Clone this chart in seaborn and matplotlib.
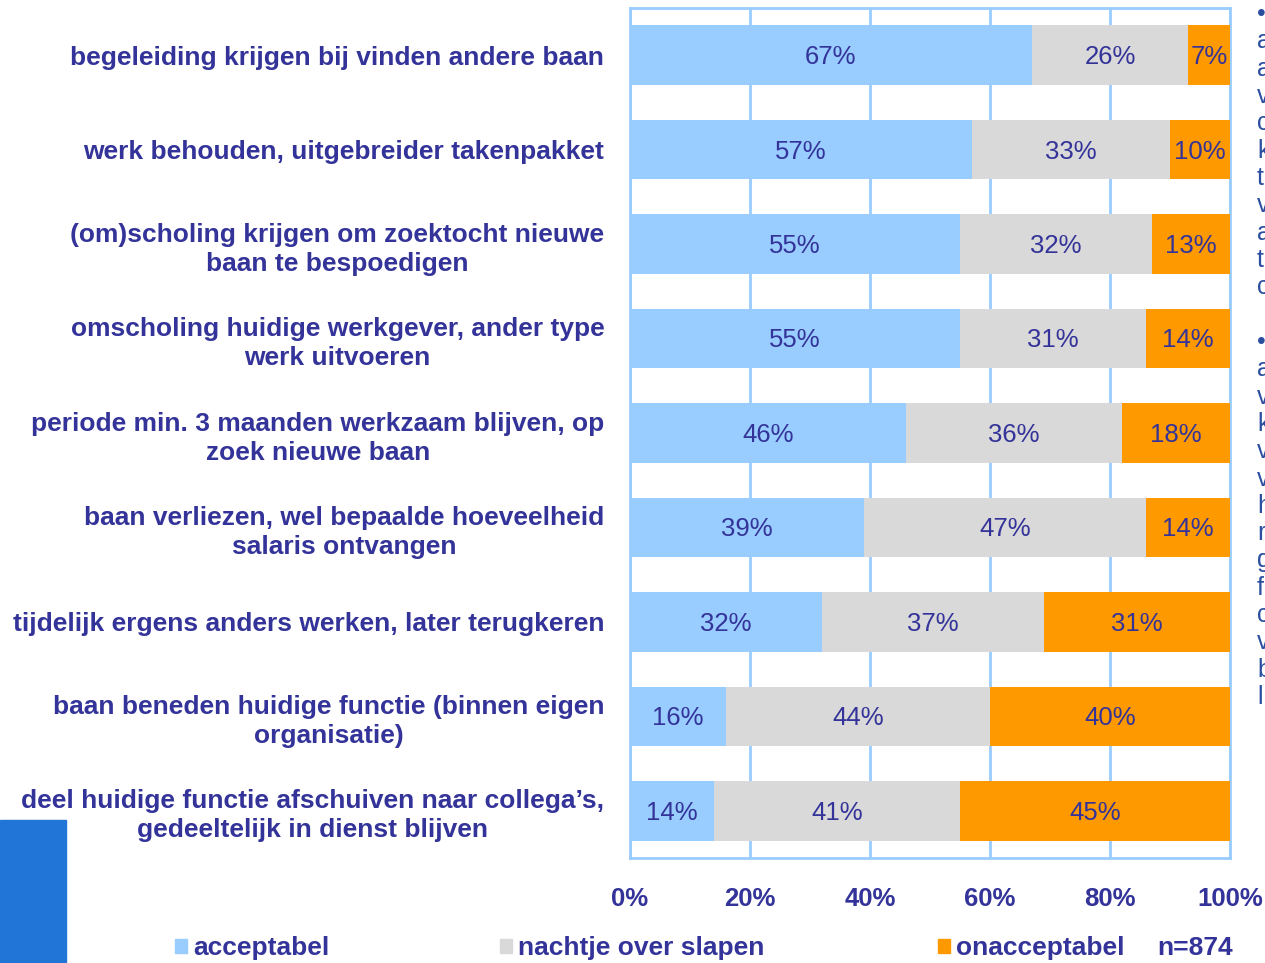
import matplotlib
matplotlib.use("Agg")
import matplotlib.pyplot as plt
import seaborn as sns
import pandas as pd
import numpy as np
from matplotlib.patches import Rectangle

categories = [
    "begeleiding krijgen bij vinden andere baan",
    "werk behouden, uitgebreider takenpakket",
    "(om)scholing krijgen om zoektocht nieuwe\nbaan te bespoedigen",
    "omscholing huidige werkgever, ander type\nwerk uitvoeren",
    "periode min. 3 maanden werkzaam blijven, op\nzoek nieuwe baan",
    "baan verliezen, wel bepaalde hoeveelheid\nsalaris ontvangen",
    "tijdelijk ergens anders werken, later terugkeren",
    "baan beneden huidige functie (binnen eigen\norganisatie)",
    "deel huidige functie afschuiven naar collega\u2019s,\ngedeeltelijk in dienst blijven",
]
acceptabel = [67, 57, 55, 55, 46, 39, 32, 16, 14]
nachtje = [26, 33, 32, 31, 36, 47, 37, 44, 41]
onacceptabel = [7, 10, 13, 14, 18, 14, 31, 40, 45]
series_names = ["acceptabel", "nachtje over slapen", "onacceptabel"]
xticks = [0, 20, 40, 60, 80, 100]
n_label = "n=874"

colors = ["#99CCFF", "#D9D9D9", "#FF9900"]
txt = "#333399"

sns.set_theme(style="white")
plt.rcParams["font.family"] = ["Liberation Sans", "DejaVu Sans"]

df = pd.DataFrame({"cat": categories, "a": acceptabel, "n": nachtje, "o": onacceptabel})
df["cum_n"] = df["a"] + df["n"]
df["cum_o"] = df["a"] + df["n"] + df["o"]

fig = plt.figure(figsize=(12.65, 9.63), dpi=100)
ax = fig.add_axes([630 / 1265, 1 - 858 / 963, 600 / 1265, 850 / 963])

W = 0.63
sns.barplot(data=df, y="cat", x="cum_o", color=colors[2], width=W, ax=ax, saturation=1, zorder=3, linewidth=0)
sns.barplot(data=df, y="cat", x="cum_n", color=colors[1], width=W, ax=ax, saturation=1, zorder=3, linewidth=0)
sns.barplot(data=df, y="cat", x="a", color=colors[0], width=W, ax=ax, saturation=1, zorder=3, linewidth=0)

for i in range(len(categories)):
    starts = [0, acceptabel[i], acceptabel[i] + nachtje[i]]
    vals = [acceptabel[i], nachtje[i], onacceptabel[i]]
    for s, v in zip(starts, vals):
        ax.text(s + v / 2, i + 0.02, f"{v}%", ha="center", va="center", fontsize=18.5, color=txt, zorder=4)

ax.set_xlim(0, 100)
ax.set_ylim(len(categories) - 0.5, -0.5)
ax.set_xticks(xticks)
ax.set_xticklabels([f"{t}%" for t in xticks], fontsize=18.5, fontweight="bold", color=txt)
ax.set_xlabel("")
ax.set_ylabel("")
ax.tick_params(axis="x", length=0, pad=21)
ax.tick_params(axis="y", length=0, pad=18.5)
for lab in ax.get_yticklabels():
    lab.set_fontsize(19)
    lab.set_fontweight("bold")
    lab.set_color(txt)
    lab.set_multialignment("center")
    lab.set_linespacing(1.27)
ax.grid(axis="x", color="#99CCFF", linewidth=2, zorder=0)
ax.grid(axis="y", visible=False)
ax.set_axisbelow(True)
for sp in ax.spines.values():
    sp.set_color("#99CCFF")
    sp.set_linewidth(2)

legend_x = [175, 500, 938]
for name, c, lx in zip(series_names, colors, legend_x):
    leg = fig.legend([Rectangle((0, 0), 1, 1, color=c)], [name], loc="center left",
                     bbox_to_anchor=(lx / 1265, 1 - 948 / 963), frameon=False,
                     handlelength=0.45, handleheight=0.45, handletextpad=0.25,
                     borderpad=0, borderaxespad=0, prop={"size": 19, "weight": "bold"})
    for t in leg.get_texts():
        t.set_color(txt)
fig.text(1157 / 1265, 1 - 948 / 963, n_label, fontsize=19, fontweight="bold", color=txt, va="center")

# decorative blue block bottom-left
fig.patches.append(Rectangle((0, 0), 66 / 1265, (963 - 820) / 963, transform=fig.transFigure,
                             color="#2175D6", zorder=5))

# clipped side text at right edge
side = "\u2022\na\na\nv\nc\nk\nt\nv\na\nt\nc\n\n\u2022\na\nv\nk\nv\nv\nh\nr\ng\nf\nc\nv\nb\nl"
fig.text(1257 / 1265, 1 - 2 / 963, side, fontsize=18, color="#2B4EA0", va="top", ha="left", linespacing=1.175)

fig.savefig("out.png", dpi=100)
